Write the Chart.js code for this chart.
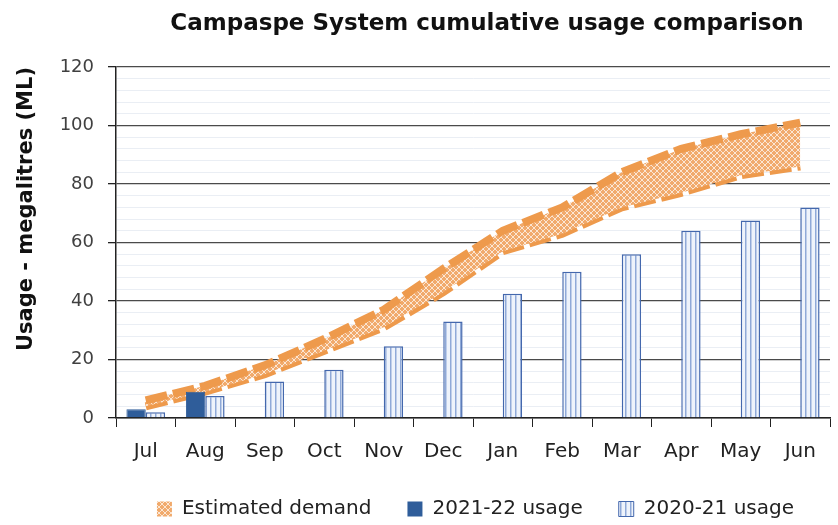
<!DOCTYPE html>
<html>
<head>
<meta charset="utf-8">
<script src="https://cdn.jsdelivr.net/npm/chart.js@4"></script>
<style>
    body { margin: 0; background: #fff; }
    #wrap { position: relative; width: 838px; height: 525px; }
    #title {
        position: absolute; top: 8px; left: 487px; transform: translateX(-50%);
        white-space: nowrap; font: bold 23px "DejaVu Sans", sans-serif; line-height: 28px; color: #111;
    }
    canvas { position: absolute; left: 0; top: 0; }
</style>
</head>
<body>
<div id="wrap">
    <canvas id="usage-chart" width="838" height="525"></canvas>
    <div id="title">Campaspe System cumulative usage comparison</div>
</div>
<script>
// Months of the water year
const months = ['Jul', 'Aug', 'Sep', 'Oct', 'Nov', 'Dec', 'Jan', 'Feb', 'Mar', 'Apr', 'May', 'Jun'];

// Estimated demand band (upper and lower edge, ML)
const demandHigh = [6, 11, 18, 27, 37, 51, 64, 72, 84, 92, 97, 101];
const demandLow = [4, 9, 15, 23, 31, 43, 57, 63, 72, 77, 83, 86];

// Cumulative usage (ML)
const usage2122 = [3, 9, null, null, null, null, null, null, null, null, null, null];
const usage2021 = [2, 7.5, 12.5, 16.5, 24.5, 33, 42.5, 50, 56, 64, 67.5, 72];

// Orange lattice fill for the demand band
function makeLattice() {
    const c = document.createElement('canvas');
    c.width = 6; c.height = 6;
    const g = c.getContext('2d');
    g.fillStyle = '#f1aa6c';
    g.fillRect(0, 0, 6, 6);
    g.strokeStyle = 'rgba(255,255,255,0.7)';
    g.lineWidth = 1;
    g.beginPath();
    g.moveTo(0, 0); g.lineTo(6, 6);
    g.moveTo(6, 0); g.lineTo(0, 6);
    g.stroke();
    return g.createPattern(c, 'repeat');
}

// Light blue vertical stripes for 2020-21 bars
function makeStripes() {
    const c = document.createElement('canvas');
    c.width = 5; c.height = 5;
    const g = c.getContext('2d');
    g.fillStyle = '#eef3fb';
    g.fillRect(0, 0, 5, 5);
    g.fillStyle = '#8fa9d8';
    g.fillRect(0, 0, 1.5, 5);
    return g.createPattern(c, 'repeat');
}

const lattice = makeLattice();
const stripes = makeStripes();
const baseFont = '"DejaVu Sans", sans-serif';

new Chart(document.getElementById('usage-chart'), {
    type: 'bar',
    data: {
        labels: months,
        datasets: [
            {
                type: 'line',
                label: 'Estimated demand',
                data: demandHigh,
                borderColor: '#ee9a4c',
                borderWidth: 8,
                borderDash: [22, 6],
                backgroundColor: lattice,
                fill: '+1',
                tension: 0,
                pointRadius: 0,
                order: 2
            },
            {
                type: 'line',
                label: 'demand-low',
                data: demandLow,
                borderColor: '#ee9a4c',
                borderWidth: 8,
                borderDash: [22, 6],
                backgroundColor: lattice,
                fill: false,
                tension: 0,
                pointRadius: 0,
                order: 2
            },
            {
                label: '2021-22 usage',
                data: usage2122,
                backgroundColor: '#2f5d9a',
                borderColor: '#2f5d9a',
                borderWidth: 1,
                categoryPercentage: 0.65,
                barPercentage: 1.0,
                order: 1
            },
            {
                label: '2020-21 usage',
                data: usage2021,
                backgroundColor: stripes,
                borderColor: '#4468ad',
                borderWidth: 1.5,
                categoryPercentage: 0.65,
                barPercentage: 1.0,
                order: 1
            }
        ]
    },
    options: {
        responsive: false,
        animation: false,
        layout: { padding: { top: 67, right: 8, bottom: -4, left: 0 } },
        plugins: {
            tooltip: { enabled: false },
            legend: {
                position: 'bottom',
                align: 'end',
                labels: {
                    font: { family: baseFont, size: 20 },
                    color: '#222',
                    boxWidth: 15,
                    boxHeight: 15,
                    padding: 36,
                    filter: item => item.text !== 'demand-low',
                    sort: (a, b) => a.datasetIndex - b.datasetIndex,
                    generateLabels: chart => {
                        const items = Chart.defaults.plugins.legend.labels.generateLabels(chart);
                        items.forEach(item => {
                            item.lineWidth = 0;
                            item.lineDash = [];
                            if (item.datasetIndex === 0) item.fillStyle = lattice;
                            if (item.datasetIndex === 3) { item.lineWidth = 1; item.strokeStyle = '#4468ad'; }
                        });
                        return items;
                    }
                }
            }
        },
        scales: {
            x: {
                offset: true,
                grid: {
                    offset: true,
                    drawOnChartArea: false,
                    color: '#222',
                    tickLength: 9
                },
                border: { color: '#222', width: 1.5 },
                ticks: { font: { family: baseFont, size: 20 }, color: '#222', padding: 13 },
                afterFit: scale => { scale.height = 45; }
            },
            y: {
                min: 0,
                max: 120,
                ticks: {
                    stepSize: 4,
                    autoSkip: false,
                    padding: 14,
                    font: { family: baseFont, size: 18 },
                    color: '#404040',
                    callback: v => (v % 20 === 0 ? v : '')
                },
                grid: {
                    color: ctx => (ctx.tick && ctx.tick.value % 20 === 0 ? '#4a4a4a' : '#eaeef4'),
                    lineWidth: ctx => (ctx.tick && ctx.tick.value % 20 === 0 ? 1.3 : 1),
                    tickColor: ctx => (ctx.tick && ctx.tick.value % 20 === 0 ? '#222' : 'rgba(0,0,0,0)'),
                    tickLength: 8
                },
                border: { color: '#222', width: 1.5 },
                title: {
                    display: true,
                    text: 'Usage - megalitres (ML)',
                    align: 'end',
                    font: { family: baseFont, size: 21, weight: 'bold' },
                    color: '#111',
                    padding: { top: 14, bottom: 0 }
                },
                afterFit: scale => { scale.width = 116; }
            }
        }
    }
});
</script>
</body>
</html>
